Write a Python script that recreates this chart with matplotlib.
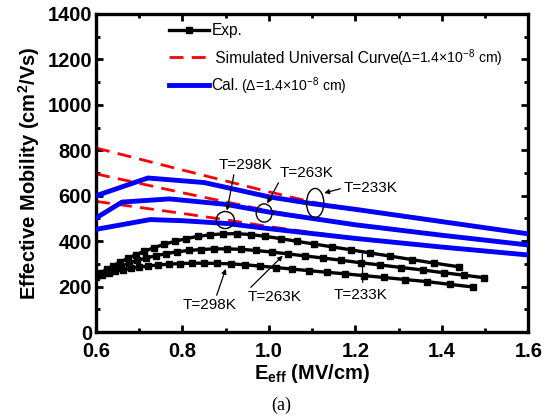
import matplotlib
matplotlib.use("Agg")
import matplotlib.pyplot as plt
from matplotlib.patches import Ellipse
from matplotlib.ticker import MultipleLocator

plt.rcParams['font.family'] = ['Liberation Sans', 'DejaVu Sans']
plt.rcParams['mathtext.fontset'] = 'custom'
plt.rcParams['mathtext.rm'] = 'Liberation Sans'
plt.rcParams['mathtext.bf'] = 'Liberation Sans:bold'

# Measured effective mobility (black squares)
exp_233_x = [0.600, 0.612, 0.625, 0.640, 0.656, 0.673, 0.692, 0.712, 0.734, 0.757, 0.782, 0.808, 0.835, 0.864,
             0.894, 0.925, 0.958, 0.992, 1.028, 1.066, 1.105, 1.146, 1.189, 1.234, 1.281, 1.330, 1.383, 1.440]
exp_233_y = [250, 262, 276, 292, 308, 324, 340, 356, 371, 386, 399, 411, 421, 428,
             432, 433, 429, 421, 411, 399, 387, 375, 362, 348, 334, 319, 303, 287]

exp_263_x = [0.600, 0.613, 0.627, 0.642, 0.658, 0.676, 0.695, 0.716, 0.738, 0.762, 0.787, 0.814, 0.842, 0.872,
             0.903, 0.936, 0.970, 1.006, 1.044, 1.083, 1.124, 1.167, 1.212, 1.258, 1.306, 1.356, 1.404, 1.452, 1.498]
exp_263_y = [245, 256, 267, 279, 291, 303, 315, 326, 336, 345, 353, 359, 363, 366,
             366, 364, 359, 352, 344, 335, 326, 316, 305, 295, 284, 273, 261, 250, 239]

exp_298_x = [0.600, 0.614, 0.629, 0.645, 0.662, 0.680, 0.700, 0.721, 0.744, 0.768, 0.794, 0.821, 0.850, 0.880,
             0.912, 0.945, 0.980, 1.016, 1.054, 1.093, 1.134, 1.177, 1.221, 1.267, 1.315, 1.365, 1.418, 1.473]
exp_298_y = [240, 250, 259, 267, 274, 280, 286, 291, 295, 299, 301, 303, 303, 302,
             300, 296, 290, 284, 277, 270, 263, 256, 248, 240, 231, 222, 210, 198]

# Calculated mobility (blue)
cal_233_x = [0.60, 0.72, 0.85, 1.00, 1.10, 1.20, 1.40, 1.60]
cal_233_y = [600, 678, 658, 595, 565, 540, 486, 432]
cal_263_x = [0.60, 0.66, 0.77, 0.90, 1.00, 1.20, 1.40, 1.60]
cal_263_y = [502, 572, 586, 562, 528, 472, 426, 383]
cal_298_x = [0.60, 0.725, 0.80, 0.90, 1.00, 1.20, 1.40, 1.60]
cal_298_y = [452, 495, 490, 478, 455, 412, 374, 339]

# Simulated universal curves (red dashed)
uni_233_x = [0.60, 0.80, 1.00, 1.10, 1.20, 1.40, 1.60]
uni_233_y = [810, 713, 617, 572, 540, 486, 432]
uni_263_x = [0.60, 0.80, 1.00, 1.20, 1.40, 1.60]
uni_263_y = [696, 613, 533, 472, 426, 383]
uni_298_x = [0.60, 0.80, 0.90, 1.00, 1.20, 1.40, 1.60]
uni_298_y = [575, 522, 494, 464, 412, 374, 339]

x_ticks = [0.6, 0.8, 1.0, 1.2, 1.4, 1.6]
y_ticks = [0, 200, 400, 600, 800, 1000, 1200, 1400]

legend_main = ['Exp.', ' Simulated Universal Curve', 'Cal.']
legend_tail = ['', '($\\Delta$=1.4$\\times$10$^{-8}$ cm)', '($\\Delta$=1.4$\\times$10$^{-8}$ cm)']
tail_gap_px = [0, -2.5, 2.5]

fig = plt.figure(figsize=(5.52, 4.19), dpi=100)
ax = fig.add_axes([0.174, 0.2076, 0.783, 0.759])

red = '#ff0000'
blue = '#0000ff'
dash = (0, (5, 3))

for xs, ys in [(uni_233_x, uni_233_y), (uni_263_x, uni_263_y), (uni_298_x, uni_298_y)]:
    ax.plot(xs, ys, color=red, lw=2.0, linestyle=dash, zorder=2)
for xs, ys in [(cal_233_x, cal_233_y), (cal_263_x, cal_263_y), (cal_298_x, cal_298_y)]:
    ax.plot(xs, ys, color=blue, lw=3.5, zorder=3, solid_joinstyle='miter')
for xs, ys in [(exp_233_x, exp_233_y), (exp_263_x, exp_263_y), (exp_298_x, exp_298_y)]:
    ax.plot(xs, ys, color='black', lw=2.4, marker='s', ms=4.5, zorder=4)

# Circles marking where calculation meets the universal curve
for (cx, cy, w, h) in [(0.899, 493, 0.042, 75), (0.989, 524, 0.037, 80), (1.107, 568, 0.040, 128)]:
    ax.add_patch(Ellipse((cx, cy), w, h, fill=False, edgecolor='black', lw=1.0, zorder=5))

arrow = dict(arrowstyle='-|>', color='black', lw=0.9, mutation_scale=7, shrinkA=0, shrinkB=0)
fs_t = 11
ax.annotate('T=298K', xy=(0.903, 535), xytext=(0.945, 735), fontsize=fs_t, ha='center', va='center',
            arrowprops=dict(arrow, relpos=(0.3, 0.0)))
ax.annotate('T=263K', xy=(0.996, 566), xytext=(1.088, 700), fontsize=fs_t, ha='center', va='center',
            arrowprops=dict(arrow, relpos=(0.0, 0.0)))
ax.annotate('T=233K', xy=(1.128, 612), xytext=(1.234, 634), fontsize=fs_t, ha='center', va='center',
            arrowprops=dict(arrow, relpos=(0.0, 0.5)))
ax.annotate('T=298K', xy=(0.900, 278), xytext=(0.862, 119), fontsize=fs_t, ha='center', va='center',
            arrowprops=dict(arrow, relpos=(0.62, 1.0)))
ax.annotate('T=263K', xy=(1.032, 336), xytext=(1.014, 154), fontsize=fs_t, ha='center', va='center',
            arrowprops=dict(arrow, relpos=(0.0, 1.0)))
ax.annotate('T=233K', xy=(1.216, 345), xytext=(1.211, 163), fontsize=fs_t, ha='center', va='center',
            arrowprops=dict(arrowstyle='-', color='black', lw=0.9, relpos=(0.55, 1.0), shrinkA=2, shrinkB=0))

ax.set_xlim(0.6, 1.6)
ax.set_ylim(0, 1400)
ax.set_xticks(x_ticks)
ax.set_yticks(y_ticks)
ax.set_xticklabels(['%.1f' % v for v in x_ticks])
ax.set_yticklabels([str(v) for v in y_ticks])
ax.xaxis.set_minor_locator(MultipleLocator(0.1))
ax.yaxis.set_minor_locator(MultipleLocator(100))
ax.tick_params(which='both', direction='in', top=True, right=True, width=2.0)
ax.tick_params(which='major', length=5, labelsize=14.5)
ax.tick_params(axis='x', which='major', pad=7)
ax.tick_params(axis='y', which='major', pad=3)
ax.tick_params(which='minor', length=3)
for lab in ax.get_xticklabels() + ax.get_yticklabels():
    lab.set_fontweight('bold')
for sp in ax.spines.values():
    sp.set_linewidth(2.4)

ax.set_xlabel('E$_{\\mathbf{eff}}$ (MV/cm)', fontsize=14.5, fontweight='bold', labelpad=1)
ax.set_ylabel('Effective Mobility (cm$^{\\mathbf{2}}$/Vs)', fontsize=14.5, fontweight='bold', labelpad=4)

fig.text(0.51, 0.033, '(a)', fontsize=13, ha='center', va='center', family=['Liberation Serif', 'DejaVu Serif'])

# Legend: handles with main labels, smaller parenthetical text appended on the same baseline
h_exp, = ax.plot([], [], color='black', lw=2.4, marker='s', ms=4.5)
h_uni, = ax.plot([], [], color=red, lw=2.0, linestyle=dash)
h_cal, = ax.plot([], [], color=blue, lw=3.5)
leg = ax.legend([h_exp, h_uni, h_cal], legend_main,
                loc='upper left', bbox_to_anchor=(0.137, 1.015), frameon=False,
                fontsize=11.2, handlelength=2.55, handletextpad=0.15, labelspacing=0.8)
fig.canvas.draw()
renderer = fig.canvas.get_renderer()
inv = fig.transFigure.inverted()
for txt, tail, gap in zip(leg.get_texts(), legend_tail, tail_gap_px):
    if not tail:
        continue
    bb = txt.get_window_extent(renderer)
    _, _, descent = renderer.get_text_width_height_descent(
        txt.get_text(), txt.get_fontproperties(), ismath=False)
    fx, fy = inv.transform((bb.x1 + gap, bb.y0 + descent + 2.5))
    fig.text(fx, fy, tail, fontsize=10.1, ha='left', va='baseline')

fig.savefig('out.png', dpi=100)
